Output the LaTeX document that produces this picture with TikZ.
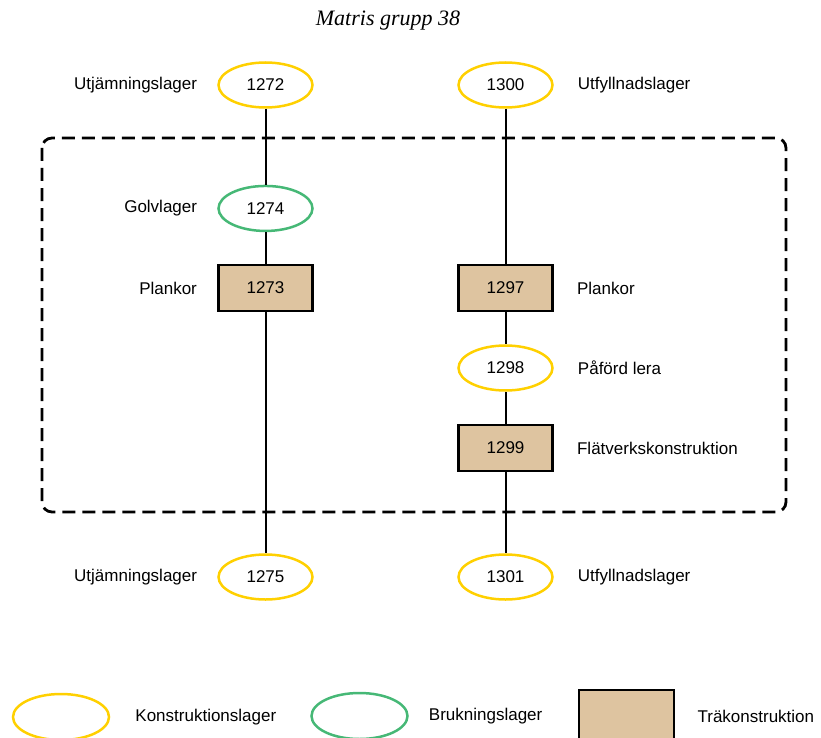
\documentclass[tikz,border=0pt]{standalone}
\usepackage{fontspec}
\setsansfont{Liberation Sans}
\newfontfamily\titelfont{Liberation Serif}
\usetikzlibrary{positioning}
\usetikzlibrary{shapes.geometric}

\definecolor{konstrgul}{RGB}{255,208,0}
\definecolor{bruknvgron}{RGB}{70,184,118}
\definecolor{traebrun}{RGB}{222,196,160}

\begin{document}
\begin{tikzpicture}[
    x = 1pt,
    y = -1pt,
    font = \sffamily\fontsize{17}{20}\selectfont,
    ]

    \tikzstyle{konstruktion}=[
    ellipse,
    draw = konstrgul,
    line width = 2.5pt,
    minimum width = 94pt,
    minimum height = 45pt,
    inner sep = 0pt,
    ]
    \tikzstyle{brukning}=[konstruktion, draw = bruknvgron]
    \tikzstyle{traebox}=[
    rectangle,
    draw = black,
    line width = 2.8pt,
    fill = traebrun,
    minimum width = 94pt,
    minimum height = 46pt,
    ]
    \tikzstyle{lager}=[inner sep = 0pt]
    \tikzstyle{linje}=[line width = 2pt]

    \useasboundingbox (0,0) rectangle (821,738);

    \node (titel) at (388,21) {\titelfont\itshape\fontsize{22}{24}\selectfont Matris grupp 38};

    % ramen
    \draw[line width = 2.8pt, dash pattern = on 13pt off 7pt, rounded corners = 10pt] (42,138) rectangle (786,512);

    % vänster kolumn
    \node[konstruktion] (n1272) at (265.5,85) {1272};
    \node[brukning] (n1274) [below of=n1272, yshift=-95pt] {1274};
    \node[traebox] (n1273) at (265.5,288) {1273};
    \node[konstruktion] (n1275) at (265.5,577) {1275};

    % höger kolumn
    \node[konstruktion] (n1300) at (505.5,85) {1300};
    \node[traebox] (n1297) at (505.5,288) {1297};
    \node[konstruktion] (n1298) at (505.5,368) {1298};
    \node[traebox] (n1299) at (505.5,448) {1299};
    \node[konstruktion] (n1301) at (505.5,577) {1301};

    \node[lager, left=20pt of n1272] {Utjämningslager};
    \node[lager, left=20pt of n1274] {Golvlager};
    \node[lager, left=20pt of n1273] {Plankor};
    \node[lager, left=20pt of n1275] {Utjämningslager};
    \node[lager, right=24pt of n1300] {Utfyllnadslager};
    \node[lager, right=23pt of n1297] {Plankor};
    \node[lager, right=24pt of n1298] {Påförd lera};
    \node[lager, right=23pt of n1299] {Flätverkskonstruktion};
    \node[lager, right=24pt of n1301] {Utfyllnadslager};

    \path[linje] (n1272) edge (n1274);
    \path[linje] (n1274) edge (n1273);
    \path[linje] (n1273) edge (n1275);
    \path[linje] (n1300) edge (n1297);
    \path[linje] (n1297) edge (n1298);
    \path[linje] (n1298) edge (n1299);
    \path[linje] (n1299) edge (n1301);

    % förklaring
    \node[konstruktion, minimum width = 96pt, minimum height = 46pt] (lk) at (61,717) {};
    \node[lager, right=25pt of lk] {Konstruktionslager};
    \node[brukning, minimum width = 96pt, minimum height = 46pt] (lb) at (359.5,716) {};
    \node[lager, right=20pt of lb] {Brukningslager};
    \node[traebox, minimum width = 95pt, minimum height = 52pt] (lt) at (626.5,716) {};
    \node[lager, right=22pt of lt] {Träkonstruktion};
  \end{tikzpicture}
\end{document}
